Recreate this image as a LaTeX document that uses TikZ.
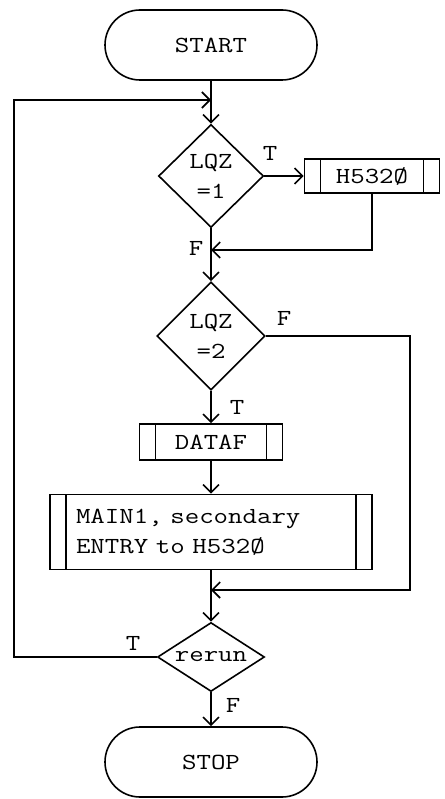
\documentclass[tikz,border=0pt]{standalone}
\usepackage{fontspec}
\setmonofont{Latin Modern Mono}[FakeStretch=1.22]
\usepackage{tikz}
\usetikzlibrary{positioning,calc,shapes.geometric,arrows.meta}

\begin{document}
\begin{tikzpicture}[x=1pt,y=-1pt,line width=1.6pt,
  font=\ttfamily\fontsize{23}{30}\selectfont,
  term/.style={draw,rectangle,rounded corners=35pt,minimum width=212pt,minimum height=70pt},
  test/.style={draw,diamond,inner sep=0pt,align=center},
  subr/.style={draw,rectangle,minimum height=34pt,path picture={
      \draw ([xshift=16pt]path picture bounding box.north west) -- ([xshift=16pt]path picture bounding box.south west);
      \draw ([xshift=-16pt]path picture bounding box.north east) -- ([xshift=-16pt]path picture bounding box.south east);}},
  arr/.style={-{Straight Barb[length=8pt,width=16pt]}},
  flag/.style={inner sep=0pt}]
  \useasboundingbox (0,0) rectangle (444,799);

  \node[term] (start) at (211,45) {START};
  \node[test,minimum width=105pt,minimum height=103pt] (lqz1) at (211,176) {LQZ\\=1};
  \node[subr,minimum width=135pt] (h5320) at (372,176) {H532Ø};
  \node[test,minimum width=108pt,minimum height=108pt] (lqz2) at (211,336) {LQZ\\=2};
  \node[subr,minimum width=143pt,minimum height=36pt] (dataf) at (211,442) {DATAF};
  \node[subr,text width=270pt,inner xsep=26pt,minimum height=75pt,align=left] (main1) at (211,532) {MAIN1, secondary\\ENTRY to H532Ø};
  \node[test,aspect=1.55,minimum width=107pt,minimum height=69pt] (rerun) at (211,657) {rerun};
  \node[term] (stop) at (211,762) {STOP};

  \coordinate (top) at (211,100);
  \coordinate (join1) at (211,250);
  \coordinate (join2) at (211,590);
  \coordinate (leftc) at (14,100);
  \coordinate (rightc) at (410,590);

  \draw (start) -- (top);
  \draw[arr] (top) -- (lqz1);
  \draw[arr] (lqz1) -- (h5320);
  \draw[arr] (h5320) |- (join1);
  \draw (lqz1) -- (join1);
  \draw[arr] (join1) -- (lqz2);
  \draw[arr] (lqz2) -- (dataf);
  \draw[arr] (dataf) -- (main1);
  \draw (main1) -- (join2);
  \draw[arr] (join2) -- (rerun);
  \draw[arr] (rerun) -- (stop);
  \draw[arr] (lqz2.east) -| (rightc) -- (join2);
  \draw[arr] (rerun.west) -| (leftc) -- (top);

  \foreach \txt/\px/\py [count=\i] in {T/270/153, F/196/248, F/284/318, T/237/407, T/133/643, F/233/705}
    \node[flag] (flag\i) at (\px,\py) {\txt};
\end{tikzpicture}
\end{document}
